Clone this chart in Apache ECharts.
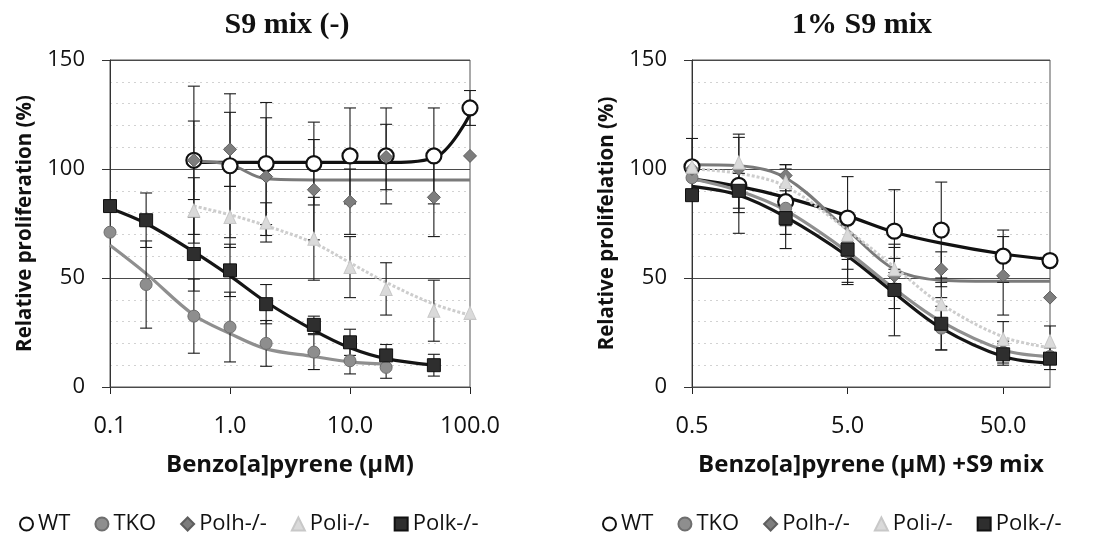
<!DOCTYPE html>
<html><head><meta charset="utf-8">
<script src="https://cdn.jsdelivr.net/npm/echarts@6/dist/echarts.min.js"></script>
<style>html,body{margin:0;padding:0;background:#fff}#c{width:1100px;height:549px}</style>
</head><body><div id="c"></div>
<script>
// ---------- DATA ----------
const genotypes = ['WT', 'TKO', 'Polh-/-', 'Poli-/-', 'Polk-/-'];

// Left panel: S9 mix (-)
const leftDoses = [0.1, 0.2, 0.5, 1, 2, 5, 10, 20, 50, 100];
const leftWT      = [null, null, 104, 101.5, 102.5, 102.5, 106, 106, 106, 128];
const leftWTErr   = [null, null, 34, 33, 28, 19, 22, 22, 22, 8];
const leftWTFit   = [null, null, 103, 103, 103, 103, 103, 103, 105, 125];
const leftTKO     = [71, 47, 32.5, 27.5, 20, 16, 12, 9, null, null];
const leftTKOErr  = [null, 20, 17, 16, 10.5, 8, 6, 5, null, null];
const leftTKOFit  = [65, 52, 33, 24.5, 17.5, 14, 11.5, 10.5, null, null];
const leftPolh    = [null, null, 104, 109, 96.5, 90.5, 85, 105.5, 87, 106];
const leftPolhErr = [null, null, 18, 17, 27, 23, 15, 15, 18, null];
const leftPolhFit = [null, null, 103.5, 102, 95.5, 95, 95, 95, 95, 95];
const leftPoli    = [null, null, 81, 78, 75.5, 68, 55, 45, 35, 34];
const leftPoliErr = [null, null, 15, 14, 9, 19, 14, 12, 14, null];
const leftPoliFit = [null, null, 83, 79, 74, 66, 57, 48, 38, 33];
const leftPolk    = [83, 76.5, 61, 53.5, 38, 28.5, 20.5, 14.5, 10, null];
const leftPolkErr = [null, 12.5, 17, 12, 9, 4, 6, 5, 5, null];
const leftPolkFit = [82, 75, 62, 51, 39, 26, 18, 13, 10, null];

// Right panel: 1% S9 mix
const rightDoses = [0.5, 1, 2, 5, 10, 20, 50, 100];
const rightWT      = [101, 92.5, 85, 77.5, 71.5, 72, 60, 58];
const rightWTErr   = [13, 22, 15, 19, 19, 22, 12, null];
const rightWTFit   = [95.5, 92, 87, 78.5, 71, 66, 61, 58.5];
const rightTKO     = [96, 90, 82, 62, 45, 27, 16, 14];
const rightTKOErr  = [null, 10, 8, 14, 9, 10, 5, null];
const rightTKOFit  = [95.5, 90, 81, 62, 45, 30, 17, 14];
const rightPolh    = [100, 100, 97, 66, 51, 54, 51, 41];
const rightPolhErr = [null, null, 5, 12, 8, 8, 18, null];
const rightPolhFit = [102, 101.5, 96, 72, 54, 49, 48.5, 48.5];
const rightPoli    = [101, 103, 94, 70, 54, 38, 22, 21];
const rightPoliErr = [null, 13, 8, 10, 10, 10, 8, 7];
const rightPoliFit = [100, 98, 92, 72, 55, 38, 23, 18];
const rightPolk    = [88, 90, 77.5, 63, 44.5, 29, 15, 13];
const rightPolkErr = [null, 8, 14, 16, 21, 12, 5, 5];
const rightPolkFit = [92, 88, 78, 60, 43, 27, 14, 11];

const leftTicks = ['0.1', '1.0', '10.0', '100.0'];
const rightTicks = ['0.5', '5.0', '50.0'];
const yTicks = [0, 50, 100, 150];

// ---------- STYLE ----------
const styles = {
  'WT':      {symbol:'circle', size:15, fill:'#ffffff', border:'#111', bw:2.2, line:'#111', lw:3.2, ltype:'solid'},
  'TKO':     {symbol:'circle', size:12, fill:'#8e8e8e', border:'#6e6e6e', bw:1, line:'#8f8f8f', lw:3.2, ltype:'solid'},
  'Polh-/-': {symbol:'diamond', size:13, fill:'#7d7d7d', border:'#5e5e5e', bw:1, line:'#7a7a7a', lw:3, ltype:'solid'},
  'Poli-/-': {symbol:'triangle', size:13, fill:'#dadada', border:'#c8c8c8', bw:1, line:'#cdcdcd', lw:3, ltype:[3,2]},
  'Polk-/-': {symbol:'rect', size:13, fill:'#2e2e2e', border:'#111', bw:1, line:'#151515', lw:3.2, ltype:'solid'}
};

const panels = [
  {doses:leftDoses, tx:d=>Math.log10(d), sets:{
    'WT':[leftWT,leftWTErr,leftWTFit], 'TKO':[leftTKO,leftTKOErr,leftTKOFit],
    'Polh-/-':[leftPolh,leftPolhErr,leftPolhFit], 'Poli-/-':[leftPoli,leftPoliErr,leftPoliFit],
    'Polk-/-':[leftPolk,leftPolkErr,leftPolkFit]}},
  {doses:rightDoses, tx:d=>Math.log10(d/0.5), sets:{
    'WT':[rightWT,rightWTErr,rightWTFit], 'TKO':[rightTKO,rightTKOErr,rightTKOFit],
    'Polh-/-':[rightPolh,rightPolhErr,rightPolhFit], 'Poli-/-':[rightPoli,rightPoliErr,rightPoliFit],
    'Polk-/-':[rightPolk,rightPolkErr,rightPolkFit]}}
];

const FONT = '"Open Sans", "Noto Sans", sans-serif';
const series = [];
panels.forEach((p, pi) => {
  genotypes.forEach(g => {
    const [vals, errs, fit] = p.sets[g];
    const st = styles[g];
    series.push({
      type:'custom', name:g+' err', xAxisIndex:pi, yAxisIndex:pi*2, z:3, silent:true,
      data: p.doses.map((d,i)=> (vals[i]!=null && errs[i]!=null) ? [p.tx(d), vals[i]-errs[i], vals[i]+errs[i]] : null).filter(Boolean),
      encode:{x:0, y:[1,2]},
      renderItem:(params, api)=>{
        const x = api.value(0);
        const a = api.coord([x, api.value(1)]), b = api.coord([x, api.value(2)]);
        const w = 6, s = {stroke:'#1a1a1a', lineWidth:1.1};
        return {type:'group', children:[
          {type:'line', shape:{x1:a[0], y1:a[1], x2:b[0], y2:b[1]}, style:s},
          {type:'line', shape:{x1:a[0]-w, y1:a[1], x2:a[0]+w, y2:a[1]}, style:s},
          {type:'line', shape:{x1:b[0]-w, y1:b[1], x2:b[0]+w, y2:b[1]}, style:s}
        ]};
      }
    });
    series.push({
      type:'line', name:g+' fit', xAxisIndex:pi, yAxisIndex:pi*2, z:2, silent:true,
      smooth:0.35, showSymbol:false, symbol:'none',
      data: p.doses.map((d,i)=> fit[i]!=null ? [p.tx(d), fit[i]] : null).filter(Boolean),
      lineStyle:{color:st.line, width:st.lw, type:st.ltype}
    });
    series.push({
      type:'scatter', name:g, xAxisIndex:pi, yAxisIndex:pi*2, z:4,
      symbol:st.symbol, symbolSize:st.symbol==='triangle'?[12,13]:st.size,
      data: p.doses.map((d,i)=> vals[i]!=null ? [p.tx(d), vals[i]] : null).filter(Boolean),
      itemStyle:{color:st.fill, borderColor:st.border, borderWidth:st.bw, opacity:1}
    });
  });
});

const grids = [
  {left:110, top:60, width:360, height:327, show:true, borderColor:'#555', borderWidth:1, backgroundColor:'#fff'},
  {left:692, top:60, width:358, height:327, show:true, borderColor:'#555', borderWidth:1, backgroundColor:'#fff'}
];

const xNameStyle = {fontFamily:FONT, fontWeight:'bold', fontSize:24, color:'#111'};
const xLabelStyle = {fontFamily:FONT, fontSize:23.5, color:'#111', margin:27};
const xAxes = [
  {type:'value', gridIndex:0, min:-1, max:2, interval:1,
   name:'Benzo[a]pyrene (μM)', nameLocation:'middle', nameGap:66, nameTextStyle:xNameStyle,
   axisLine:{onZero:false, lineStyle:{color:'#222', width:1}}, axisTick:{length:7, lineStyle:{color:'#222'}},
   splitLine:{show:false},
   axisLabel:Object.assign({}, xLabelStyle, {
     formatter:v=>{const k=Math.round(v)+1; return (Math.abs(v-Math.round(v))<1e-6 && leftTicks[k]!=null)?leftTicks[k]:'';}})},
  {type:'value', gridIndex:1, min:0, max:Math.log10(100/0.5), interval:1,
   name:'Benzo[a]pyrene (μM) +S9 mix', nameLocation:'middle', nameGap:66, nameTextStyle:xNameStyle,
   axisLine:{onZero:false, lineStyle:{color:'#222', width:1}}, axisTick:{length:7, lineStyle:{color:'#222'}},
   splitLine:{show:false},
   axisLabel:Object.assign({}, xLabelStyle, {showMaxLabel:false,
     formatter:v=>{const k=Math.round(v); return (Math.abs(v-k)<1e-6 && rightTicks[k]!=null)?rightTicks[k]:'';}})}
];

function yPair(gi, name){
  return [
    {type:'value', gridIndex:gi, min:0, max:150, interval:50, z:2,
     name:name, nameLocation:'middle', nameGap:74,
     nameTextStyle:{fontFamily:FONT, fontWeight:'bold', fontSize:20.5, color:'#111'},
     axisLine:{show:true, onZero:false, lineStyle:{color:'#333'}}, axisTick:{show:true, length:8, lineStyle:{color:'#333'}},
     splitLine:{show:true, lineStyle:{color:'#4a4a4a', width:1, type:'solid'}},
     axisLabel:{fontFamily:FONT, fontSize:22, color:'#111', margin:25,
       formatter:v=>yTicks.includes(v)?String(v):''}},
    {type:'value', gridIndex:gi, min:0, max:150, interval:10, z:0,
     axisLine:{show:false, onZero:false}, axisTick:{show:false}, axisLabel:{show:false},
     splitLine:{show:true, lineStyle:{color:'#d2d2d2', width:1, type:[2,4]}}}
  ];
}

const legendBase = {
  itemWidth:13, itemHeight:13, itemGap:24,
  textStyle:{fontFamily:FONT, fontSize:22, color:'#111'},
  data:genotypes, selectedMode:false
};

const titleStyle = {fontFamily:'"Liberation Serif", "DejaVu Serif", serif', fontWeight:'bold', fontSize:30, color:'#111'};
const option = {
  animation:false,
  backgroundColor:'#fff',
  title:[
    {text:'S9 mix (-)', left:282, top:5, textAlign:'center', textStyle:titleStyle},
    {text:'1% S9 mix', left:857, top:5, textAlign:'center', textStyle:titleStyle}
  ],
  grid:grids,
  xAxis:xAxes,
  yAxis:[...yPair(0,'Relative proliferation (%)'), ...yPair(1,'Relative prolifelation (%)')],
  legend:[
    Object.assign({}, legendBase, {left:14, top:508}),
    Object.assign({}, legendBase, {left:597, top:508})
  ],
  series:series
};

const chart = echarts.init(document.getElementById('c'), null, {renderer:'canvas'});
chart.setOption(option);
</script></body></html>
